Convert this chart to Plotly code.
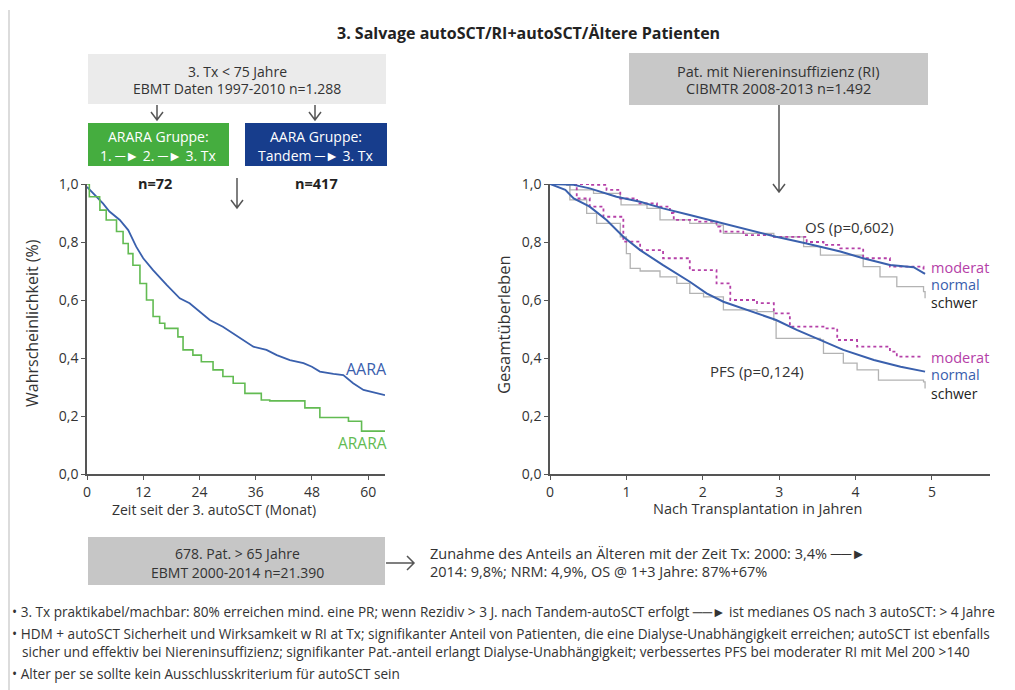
import plotly.graph_objects as go

W, H = 1015, 690
OX, OY = 8, 8  # page body margin compensation
FONT = "Open Sans"

# ---------------- data ----------------
# Left panel (months since 3rd autoSCT)
aara_months = [0, 2, 3.4, 4.8, 7, 8.8, 10.5, 12, 14.1, 17, 19.8, 21.9, 24, 26.2, 29, 31.2,
               33.3, 35.5, 38.3, 40.5, 43.3, 46.2, 48, 49.7, 52.6, 54.7, 56.8, 59, 63.6]
aara_surv = [0.99, 0.956, 0.933, 0.905, 0.876, 0.841, 0.784, 0.744, 0.703, 0.652, 0.606, 0.589,
             0.56, 0.531, 0.508, 0.485, 0.462, 0.439, 0.428, 0.41, 0.393, 0.382, 0.37, 0.353,
             0.345, 0.341, 0.313, 0.29, 0.272]
arara_months = [0, 0.5, 2.7, 2.75, 4.1, 6.3, 7.7, 8.8, 9.8, 11.3, 12.7, 14.1, 15.5, 16.6, 19.4,
                20.5, 22.6, 24.4, 26.9, 29, 31.2, 33.7, 37.2, 39, 46.5, 49.7, 55.8, 58.6, 63.6]
arara_surv = [1.0, 0.956, 0.945, 0.91, 0.876, 0.836, 0.795, 0.76, 0.72, 0.657, 0.60, 0.543, 0.52,
              0.502, 0.473, 0.428, 0.41, 0.387, 0.359, 0.336, 0.313, 0.278, 0.255, 0.252, 0.228,
              0.195, 0.182, 0.148, 0.148]
left_xticks = [0, 12, 24, 36, 48, 60]

# Right panel (years after transplantation)
os_normal_t = [0, 0.31, 0.52, 0.87, 1.18, 1.48, 1.83, 2.27, 2.71, 2.96, 3.36, 3.80, 4.10, 4.45, 4.76, 4.91]
os_normal_s = [1.0, 0.997, 0.985, 0.956, 0.939, 0.916, 0.893, 0.864, 0.836, 0.818, 0.795, 0.767, 0.744, 0.721, 0.713, 0.69]
os_moderat_t = [0, 0.52, 0.74, 0.92, 1.14, 1.40, 1.57, 1.62, 1.92, 2.18, 2.23, 2.53, 2.93, 3.36, 3.58, 3.80, 4.10, 4.45, 4.89]
os_moderat_s = [1.0, 0.997, 0.98, 0.95, 0.933, 0.922, 0.9, 0.876, 0.87, 0.853, 0.836, 0.824, 0.818, 0.80, 0.79, 0.778, 0.744, 0.715, 0.692]
os_schwer_t = [0, 0.22, 0.26, 0.57, 0.92, 0.93, 1.27, 1.44, 1.83, 2.18, 2.27, 2.93, 3.32, 3.54, 4.10, 4.32, 4.54, 4.89, 4.91]
os_schwer_s = [1.0, 0.995, 0.98, 0.968, 0.95, 0.928, 0.916, 0.876, 0.864, 0.858, 0.83, 0.818, 0.784, 0.755, 0.715, 0.68, 0.646, 0.629, 0.606]
pfs_normal_t = [0, 0.2, 0.31, 0.52, 0.74, 0.96, 1.18, 1.48, 1.83, 2.05, 2.27, 2.53, 2.96, 3.23, 3.54, 3.84, 4.24, 4.59, 4.91]
pfs_normal_s = [1.0, 0.98, 0.95, 0.922, 0.876, 0.818, 0.772, 0.72, 0.663, 0.623, 0.594, 0.571, 0.531, 0.497, 0.462, 0.428, 0.393, 0.37, 0.353]
pfs_moderat_t = [0, 0.35, 0.52, 0.70, 0.96, 1.18, 1.48, 1.83, 2.18, 2.36, 2.71, 2.93, 3.14, 3.62, 3.76, 4.02, 4.45, 4.54, 4.85]
pfs_moderat_s = [1.0, 0.95, 0.922, 0.887, 0.801, 0.772, 0.744, 0.703, 0.657, 0.60, 0.589, 0.554, 0.508, 0.502, 0.462, 0.439, 0.422, 0.405, 0.399]
pfs_schwer_t = [0, 0.26, 0.48, 0.61, 0.92, 1.00, 1.05, 1.18, 1.44, 1.66, 1.83, 2.01, 2.27, 2.71, 2.93, 2.96, 3.54, 3.58, 3.84, 4.02, 4.30, 4.89, 4.91]
pfs_schwer_s = [1.0, 0.945, 0.899, 0.864, 0.818, 0.76, 0.709, 0.70, 0.68, 0.657, 0.623, 0.611, 0.566, 0.56, 0.531, 0.468, 0.462, 0.416, 0.382, 0.359, 0.324, 0.318, 0.295]
right_xticks = [0, 1, 2, 3, 4, 5]
yticks = [0, 0.2, 0.4, 0.6, 0.8, 1.0]
ytick_text = ["0,0", "0,2", "0,4", "0,6", "0,8", "1,0"]

# ---------------- colours ----------------
BLUE = "#3a60ad"
GREEN = "#62bb52"
MAGENTA = "#b540a8"
GRAY = "#b3b3b3"
TXT = "#333333"


def px(x):
    return (x - OX) / W


def py(y):
    return 1 - (y - OY) / H


fig = go.Figure()

fig.add_trace(go.Scatter(x=aara_months, y=aara_surv, mode="lines", line=dict(color=BLUE, width=1.8),
                         xaxis="x", yaxis="y", hoverinfo="skip", cliponaxis=False))
fig.add_trace(go.Scatter(x=arara_months, y=arara_surv, mode="lines", line=dict(color=GREEN, width=1.6, shape="hv"),
                         xaxis="x", yaxis="y", hoverinfo="skip", cliponaxis=False))

for t, s, col, dash, shape, wd in [
    (os_schwer_t, os_schwer_s, GRAY, "solid", "hv", 1.3),
    (pfs_schwer_t, pfs_schwer_s, GRAY, "solid", "hv", 1.3),
    (os_moderat_t, os_moderat_s, MAGENTA, "dot", "hv", 1.8),
    (pfs_moderat_t, pfs_moderat_s, MAGENTA, "dot", "hv", 1.8),
    (os_normal_t, os_normal_s, BLUE, "solid", "linear", 2),
    (pfs_normal_t, pfs_normal_s, BLUE, "solid", "linear", 2),
]:
    fig.add_trace(go.Scatter(x=t, y=s, mode="lines", line=dict(color=col, width=wd, dash=dash, shape=shape),
                             xaxis="x2", yaxis="y2", hoverinfo="skip", cliponaxis=False))

axis_common = dict(showgrid=False, zeroline=False, showline=True, linecolor="#555555", linewidth=1.5,
                   ticks="outside", ticklen=4, tickwidth=1.2, tickcolor="#555555", automargin=False,
                   tickfont=dict(family=FONT, size=14, color=TXT))

fig.update_layout(
    width=W, height=H, margin=dict(l=0, r=0, t=0, b=0, pad=0, autoexpand=False),
    paper_bgcolor="white", plot_bgcolor="white", showlegend=False,
    xaxis=dict(domain=[px(87), px(385)], range=[0, 63.6], tickvals=left_xticks,
               anchor="y", **axis_common),
    yaxis=dict(domain=[py(474), py(184)], range=[0, 1.0], tickvals=yticks, ticktext=ytick_text,
               anchor="x", **axis_common),
    xaxis2=dict(domain=[px(550), px(990)], range=[0, 5.76], tickvals=right_xticks,
                anchor="y2", **axis_common),
    yaxis2=dict(domain=[py(474), py(184)], range=[0, 1.0], tickvals=yticks, ticktext=ytick_text,
                anchor="x2", **axis_common),
)

shapes = []
shapes.append(dict(type="line", xref="paper", yref="paper", x0=px(9), x1=px(9), y0=py(10), y1=py(698),
                   line=dict(color="#dcdcdc", width=2)))


def rect(x0, y0, x1, y1, fill):
    shapes.append(dict(type="rect", xref="paper", yref="paper", x0=px(x0), x1=px(x1), y0=py(y1), y1=py(y0),
                       fillcolor=fill, line=dict(width=0), layer="below"))


rect(88, 54, 386, 104, "#ebebeb")
rect(88, 123, 229, 166, "#45ad3f")
rect(245, 123, 387, 166, "#173d8c")
rect(629, 53, 928, 105, "#c8c8c8")
rect(88, 537, 385, 585, "#c6c6c6")


def down_arrow(x, y0, y1, col="#555555"):
    path = (f"M {px(x)} {py(y0)} L {px(x)} {py(y1)} "
            f"M {px(x-6)} {py(y1-8)} L {px(x)} {py(y1)} L {px(x+6)} {py(y1-8)}")
    shapes.append(dict(type="path", xref="paper", yref="paper", path=path, line=dict(color=col, width=1.5)))


def right_arrow(x0, x1, y, col="#555555"):
    path = (f"M {px(x0)} {py(y)} L {px(x1)} {py(y)} "
            f"M {px(x1-7)} {py(y-7)} L {px(x1)} {py(y)} L {px(x1-7)} {py(y+7)}")
    shapes.append(dict(type="path", xref="paper", yref="paper", path=path, line=dict(color=col, width=1.5)))


down_arrow(157, 105, 120)
down_arrow(315, 105, 120)
down_arrow(237, 178, 208)
down_arrow(779, 105, 192)
right_arrow(386, 414, 563)

fig.update_layout(shapes=shapes)

ann = []


def txt(x, y, s, size=15, color=TXT, anchor="center", bold=False, angle=0):
    if bold:
        s = f"<b>{s}</b>"
    ann.append(dict(x=px(x), y=py(y), xref="paper", yref="paper", text=s, showarrow=False, textangle=angle,
                    xanchor=anchor, yanchor="middle", font=dict(family=FONT, size=size, color=color)))


txt(528, 33, "3. Salvage autoSCT/RI+autoSCT/Ältere Patienten", size=16, color="#222222", bold=True)

txt(237, 71, "3. Tx &lt; 75 Jahre", size=14)
txt(237, 89, "EBMT Daten 1997-2010 n=1.288", size=14)
txt(158, 136, "ARARA Gruppe:", size=14, color="white")
txt(158, 155, "1. ─► 2. ─► 3. Tx", size=14, color="white")
txt(316, 136, "AARA Gruppe:", size=14, color="white")
txt(316, 155, "Tandem ─► 3. Tx", size=14, color="white")
txt(155, 183, "n=72", size=14.5, color="#222222", bold=True)
txt(316, 183, "n=417", size=14.5, color="#222222", bold=True)

txt(778, 71, "Pat. mit Niereninsuffizienz (RI)", size=14.5)
txt(778, 89, "CIBMTR 2008-2013 n=1.492", size=14.5)

txt(366, 369, "AARA", size=16, color=BLUE)
txt(362, 443, "ARARA", size=15.5, color=GREEN)
txt(214, 510, "Zeit seit der 3. autoSCT (Monat)", size=14)
txt(32, 323, "Wahrscheinlichkeit (%)", size=16, angle=-90)

txt(849, 227, "OS (p=0,602)", size=15)
txt(757, 371, "PFS (p=0,124)", size=15)
txt(929, 267, "moderat", size=14.5, color=MAGENTA, anchor="left")
txt(929, 284, "normal", size=14.5, color=BLUE, anchor="left")
txt(929, 302, "schwer", size=14, color="#222222", anchor="left")
txt(929, 357, "moderat", size=14.5, color=MAGENTA, anchor="left")
txt(929, 374, "normal", size=14.5, color=BLUE, anchor="left")
txt(929, 393, "schwer", size=14, color="#222222", anchor="left")
txt(757, 508, "Nach Transplantation in Jahren", size=14.5)
txt(503, 325, "Gesamtüberleben", size=16.5, angle=-90)

txt(237, 553, "678. Pat. &gt; 65 Jahre", size=14)
txt(237, 572, "EBMT 2000-2014 n=21.390", size=14)
txt(428, 553, "Zunahme des Anteils an Älteren mit der Zeit Tx: 2000: 3,4% ──►", size=14.5, anchor="left")
txt(428, 571, "2014: 9,8%; NRM: 4,9%, OS @ 1+3 Jahre: 87%+67%", size=14.5, anchor="left")

BS = 13.6
txt(10, 611, "• 3. Tx praktikabel/machbar: 80% erreichen mind. eine PR; wenn Rezidiv &gt; 3 J. nach Tandem-autoSCT erfolgt ──► ist medianes OS nach 3 autoSCT: &gt; 4 Jahre", size=BS, anchor="left")
txt(10, 633, "• HDM + autoSCT Sicherheit und Wirksamkeit w RI at Tx; signifikanter Anteil von Patienten, die eine Dialyse-Unabhängigkeit erreichen; autoSCT ist ebenfalls", size=BS, anchor="left")
txt(20, 651, "sicher und effektiv bei Niereninsuffizienz; signifikanter Pat.-anteil erlangt Dialyse-Unabhängigkeit; verbessertes PFS bei moderater RI mit Mel 200 &gt;140", size=BS, anchor="left")
txt(10, 673, "• Alter per se sollte kein Ausschlusskriterium für autoSCT sein", size=BS, anchor="left")

fig.update_layout(annotations=ann)

fig.write_html("out.html")
